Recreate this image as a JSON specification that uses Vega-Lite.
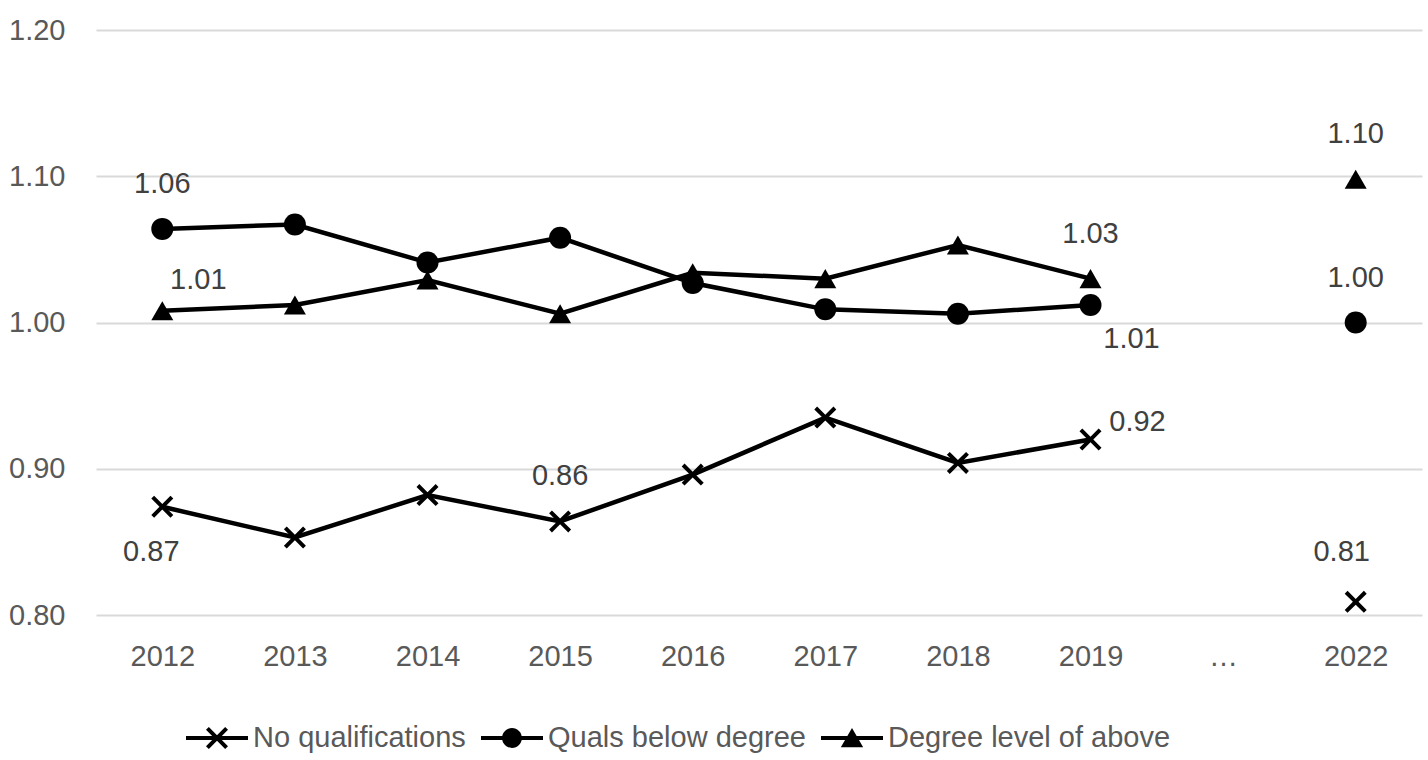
{
  "$schema": "https://vega.github.io/schema/vega-lite/v6.json",
  "width": 1326,
  "height": 585,
  "autosize": {"type": "none"},
  "padding": {"left": 96, "top": 30, "right": 6, "bottom": 145},
  "background": "white",
  "config": {
    "view": {"stroke": null},
    "font": "Liberation Sans"
  },
  "data": {
    "values": [
      {"series": "No qualifications", "year": "2012", "value": 0.874},
      {"series": "No qualifications", "year": "2013", "value": 0.853},
      {"series": "No qualifications", "year": "2014", "value": 0.882},
      {"series": "No qualifications", "year": "2015", "value": 0.864},
      {"series": "No qualifications", "year": "2016", "value": 0.896},
      {"series": "No qualifications", "year": "2017", "value": 0.935},
      {"series": "No qualifications", "year": "2018", "value": 0.904},
      {"series": "No qualifications", "year": "2019", "value": 0.920},
      {"series": "No qualifications", "year": "2022", "value": 0.809},
      {"series": "Quals below degree", "year": "2012", "value": 1.064},
      {"series": "Quals below degree", "year": "2013", "value": 1.067},
      {"series": "Quals below degree", "year": "2014", "value": 1.041},
      {"series": "Quals below degree", "year": "2015", "value": 1.058},
      {"series": "Quals below degree", "year": "2016", "value": 1.027},
      {"series": "Quals below degree", "year": "2017", "value": 1.009},
      {"series": "Quals below degree", "year": "2018", "value": 1.006},
      {"series": "Quals below degree", "year": "2019", "value": 1.012},
      {"series": "Quals below degree", "year": "2022", "value": 1.000},
      {"series": "Degree level of above", "year": "2012", "value": 1.008},
      {"series": "Degree level of above", "year": "2013", "value": 1.012},
      {"series": "Degree level of above", "year": "2014", "value": 1.029},
      {"series": "Degree level of above", "year": "2015", "value": 1.006},
      {"series": "Degree level of above", "year": "2016", "value": 1.034},
      {"series": "Degree level of above", "year": "2017", "value": 1.030},
      {"series": "Degree level of above", "year": "2018", "value": 1.053},
      {"series": "Degree level of above", "year": "2019", "value": 1.030},
      {"series": "Degree level of above", "year": "2022", "value": 1.098}
    ]
  },
  "encoding": {
    "x": {
      "field": "year",
      "type": "ordinal",
      "scale": {"type": "point", "padding": 0.5, "domain": ["2012", "2013", "2014", "2015", "2016", "2017", "2018", "2019", "…", "2022"]},
      "axis": {"title": null, "labelAngle": 0, "domain": false, "ticks": false, "grid": false, "labelFontSize": 29, "labelColor": "#595959", "labelPadding": 27}
    },
    "y": {
      "field": "value",
      "type": "quantitative",
      "scale": {"domain": [0.8, 1.2], "zero": false, "nice": false},
      "axis": {"title": null, "values": [0.8, 0.9, 1.0, 1.1, 1.2], "format": ".2f", "domain": false, "ticks": false, "grid": true, "gridColor": "#d9d9d9", "gridWidth": 2, "labelFontSize": 29, "labelColor": "#595959", "labelPadding": 31}
    }
  },
  "layer": [
    {
      "transform": [{"filter": "datum.year != '2022'"}],
      "mark": {"type": "line", "stroke": "black", "strokeWidth": 4.5},
      "encoding": {"detail": {"field": "series", "type": "nominal"}}
    },
    {
      "mark": {"type": "point", "filled": true, "size": 484, "color": "black", "opacity": 1, "strokeWidth": 0},
      "encoding": {
        "shape": {
          "field": "series",
          "type": "nominal",
          "scale": {
            "domain": ["No qualifications", "Quals below degree", "Degree level of above"],
            "range": ["M-0.743,-1L0,-0.257L0.743,-1L1,-0.743L0.257,0L1,0.743L0.743,1L0,0.257L-0.743,1L-1,0.743L-0.257,0L-1,-0.743Z", "circle", "triangle-up"]
          },
          "legend": null
        }
      }
    },
    {
      "mark": {"type": "point", "filled": true, "size": 484, "color": "black", "opacity": 0, "strokeWidth": 0},
      "encoding": {
        "shape": {
          "field": "series",
          "type": "nominal",
          "scale": {
            "domain": ["No qualifications", "Quals below degree", "Degree level of above"],
            "range": [
              "M-1,-0.065H1V0.065H-1Z M-0.263,-0.355L0,-0.092L0.263,-0.355L0.355,-0.263L0.092,0L0.355,0.263L0.263,0.355L0,0.092L-0.263,0.355L-0.355,0.263L-0.092,0L-0.355,-0.263Z",
              "M-1,-0.065H1V0.065H-1Z M-0.32,0A0.32,0.32,0,1,1,0.32,0A0.32,0.32,0,1,1,-0.32,0Z",
              "M-1,-0.065H1V0.065H-1Z M0,-0.32L0.36,0.3L-0.36,0.3Z"
            ]
          },
          "legend": {
            "title": null,
            "orient": "none",
            "legendX": 90,
            "legendY": 677,
            "direction": "horizontal",
            "labelFontSize": 29,
            "labelColor": "#595959",
            "labelLimit": 0,
            "labelOffset": 5,
            "columnPadding": 15,
            "symbolSize": 3844,
            "symbolFillColor": "black",
            "symbolStrokeWidth": 0,
            "symbolOpacity": 1,
            "encode": {"symbols": {"update": {"opacity": {"value": 1}, "fill": {"value": "black"}, "fillOpacity": {"value": 1}, "strokeWidth": {"value": 0}}}}
          }
        }
      }
    },
    {
      "transform": [{"filter": "(datum.series == 'Quals below degree' && (datum.year == '2012' || datum.year == '2022')) || (datum.series == 'No qualifications' && datum.year == '2015') || (datum.series == 'Degree level of above' && (datum.year == '2019' || datum.year == '2022'))"}],
      "mark": {"type": "text", "fontSize": 29, "color": "#404040", "dy": -45, "align": "center", "baseline": "middle"},
      "encoding": {"text": {"field": "value", "type": "quantitative", "format": ".2f"}}
    },
    {
      "transform": [{"filter": "datum.series == 'Degree level of above' && datum.year == '2012'"}],
      "mark": {"type": "text", "fontSize": 29, "color": "#404040", "dx": 36, "dy": -31, "align": "center", "baseline": "middle"},
      "encoding": {"text": {"field": "value", "type": "quantitative", "format": ".2f"}}
    },
    {
      "transform": [{"filter": "datum.series == 'No qualifications' && datum.year == '2012'"}],
      "mark": {"type": "text", "fontSize": 29, "color": "#404040", "dx": -11, "dy": 45, "align": "center", "baseline": "middle"},
      "encoding": {"text": {"field": "value", "type": "quantitative", "format": ".2f"}}
    },
    {
      "transform": [{"filter": "datum.series == 'No qualifications' && datum.year == '2019'"}],
      "mark": {"type": "text", "fontSize": 29, "color": "#404040", "dx": 47, "dy": -18, "align": "center", "baseline": "middle"},
      "encoding": {"text": {"field": "value", "type": "quantitative", "format": ".2f"}}
    },
    {
      "transform": [{"filter": "datum.series == 'No qualifications' && datum.year == '2022'"}],
      "mark": {"type": "text", "fontSize": 29, "color": "#404040", "dx": -14, "dy": -50, "align": "center", "baseline": "middle"},
      "encoding": {"text": {"field": "value", "type": "quantitative", "format": ".2f"}}
    },
    {
      "transform": [{"filter": "datum.series == 'Quals below degree' && datum.year == '2019'"}],
      "mark": {"type": "text", "fontSize": 29, "color": "#404040", "dx": 41, "dy": 34, "align": "center", "baseline": "middle"},
      "encoding": {"text": {"field": "value", "type": "quantitative", "format": ".2f"}}
    }
  ],
  "resolve": {"scale": {"shape": "independent"}}
}
